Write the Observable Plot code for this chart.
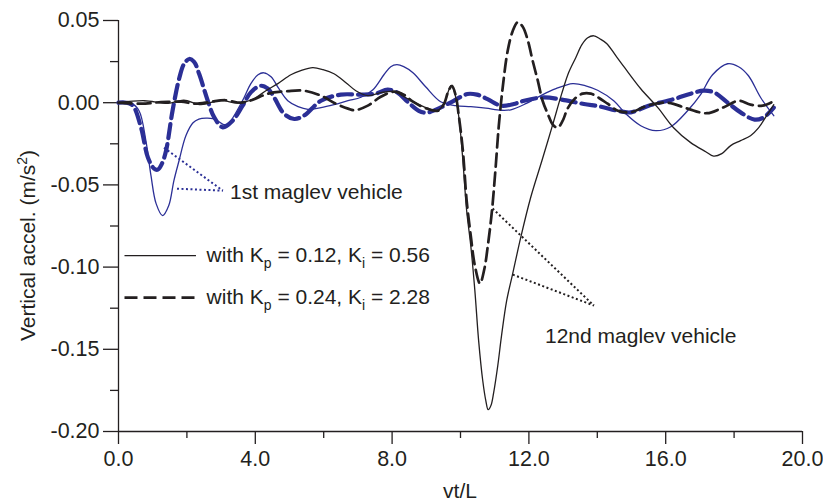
<!DOCTYPE html>
<html><head><meta charset="utf-8">
<script src="https://cdn.jsdelivr.net/npm/d3@7"></script>
<script src="https://cdn.jsdelivr.net/npm/@observablehq/plot@0.6"></script>
<style>
body{margin:0;background:#fff;}
#chart{width:823px;height:502px;}
svg{font-family:Arial,"Liberation Sans",sans-serif;}
</style></head><body><div id="chart"></div>
<script>
// Series: 1st vehicle (blue), 12nd vehicle (black); solid = Kp 0.12, dashed = Kp 0.24
const blue1X = [0,0.22,0.37,0.60,0.80,0.95,1.10,1.29,1.47,1.62,1.77,1.97,2.18,2.35,2.56,2.76,2.94,3.08,3.23,3.43,3.67,3.87,4.08,4.25,4.46,4.69,4.95,5.25,5.54,5.92,6.30,6.71,7.09,7.44,7.76,7.96,8.14,8.34,8.61,8.98,9.42,9.86,10.30,10.74,11.18,11.47,11.91,12.35,12.79,13.28,13.66,14.01,14.48,14.83,15.27,15.71,16.15,16.64,17.02,17.37,17.81,18.13,18.42,18.78,19.16];
const blue1Y = [0,0,-0.0003,-0.0049,-0.0231,-0.0444,-0.0614,-0.0687,-0.0626,-0.0474,-0.0353,-0.0201,-0.0122,-0.0100,-0.0094,-0.0097,-0.0116,-0.0134,-0.0122,-0.0061,0.0030,0.0116,0.0170,0.0182,0.0158,0.0085,0.0012,-0.0024,-0.0040,-0.0030,-0.0012,0.0012,0.0033,0.0079,0.0170,0.0219,0.0231,0.0219,0.0182,0.0097,0.0006,-0.0018,-0.0024,-0.0033,-0.0046,-0.0043,-0.0006,0.0043,0.0085,0.0116,0.0103,0.0076,0.0012,-0.0067,-0.0140,-0.0170,-0.0146,-0.0049,0.0049,0.0170,0.0237,0.0219,0.0164,0.0030,-0.0079];

const blue2X = [0,0.22,0.42,0.66,0.86,1.04,1.15,1.27,1.39,1.58,1.78,1.92,2.07,2.21,2.36,2.61,2.80,3.05,3.34,3.63,3.87,4.16,4.37,4.55,4.85,5.14,5.42,5.92,6.50,7.09,7.52,7.87,8.16,8.45,8.78,8.99,9.28,9.72,10.20,10.48,10.79,11.18,11.56,11.86,12.44,13.03,13.61,14.10,14.59,14.98,15.50,16.24,16.73,17.11,17.41,17.80,18.19,18.60,18.87,19.16];
const blue2Y = [0,0,-0.0018,-0.0152,-0.0334,-0.0401,-0.0407,-0.0371,-0.0292,-0.0049,0.0152,0.0237,0.0266,0.0249,0.0174,0.0012,-0.0089,-0.0150,-0.0109,-0.0018,0.0063,0.0103,0.0085,0.0032,-0.0069,-0.0099,-0.0079,0.0012,0.0049,0.0049,0.0055,0.0079,0.0061,0.0006,-0.0049,-0.0061,-0.0043,0.0002,0.0053,0.0049,0.0022,-0.0018,-0.0008,0.0012,0.0032,0.0016,-0.0008,-0.0024,-0.0049,-0.0059,-0.0018,0.0022,0.0055,0.0073,0.0063,0.0002,-0.0059,-0.0103,-0.0089,-0.0030];

const black1X = [0,0.75,1.45,1.91,2.41,3.00,3.49,3.96,4.31,4.66,5.04,5.33,5.68,5.98,6.30,6.65,6.94,7.29,7.67,8.05,8.40,8.78,9.13,9.34,9.52,9.63,9.72,9.80,9.89,9.98,10.07,10.18,10.30,10.42,10.53,10.65,10.74,10.81,10.89,10.97,11.09,11.20,11.35,11.52,11.76,12.05,12.38,12.67,12.96,13.16,13.37,13.55,13.72,13.90,14.07,14.28,14.54,14.80,15.27,15.77,16.23,16.73,17.17,17.40,17.64,17.90,18.19,18.48,18.72,18.95,19.16];
const black1Y = [0,0.0012,-0.0004,0.0015,-0.0012,0.0015,-0.0003,0.0024,0.0073,0.0116,0.0170,0.0195,0.0213,0.0201,0.0176,0.0122,0.0073,0.0043,0.0061,0.0067,0.0030,-0.0012,-0.0040,-0.0046,-0.0006,0.0061,0.0103,0.0079,0.0000,-0.0140,-0.0353,-0.0657,-0.0869,-0.1143,-0.1447,-0.1690,-0.1812,-0.1867,-0.1842,-0.1763,-0.1599,-0.1417,-0.1204,-0.1046,-0.0821,-0.0578,-0.0353,-0.0152,0.0055,0.0182,0.0274,0.0353,0.0395,0.0407,0.0389,0.0359,0.0286,0.0213,0.0085,-0.0030,-0.0152,-0.0243,-0.0298,-0.0325,-0.0310,-0.0261,-0.0231,-0.0201,-0.0152,-0.0079,-0.0012];

const black2X = [0,0.66,1.24,1.83,2.26,2.70,3.13,3.58,3.93,4.37,4.95,5.42,5.92,6.35,6.71,6.91,7.29,7.67,8.05,8.34,8.61,8.98,9.34,9.52,9.63,9.75,9.86,9.95,10.07,10.18,10.30,10.42,10.57,10.70,10.80,10.92,11.02,11.12,11.24,11.38,11.53,11.67,11.82,11.97,12.11,12.26,12.40,12.55,12.70,12.84,12.99,13.13,13.34,13.57,13.81,14.04,14.30,14.60,14.98,15.47,16.06,16.64,17.20,17.70,18.13,18.48,18.83,19.13];
const black2Y = [0,-0.0006,0.0003,0.0006,-0.0006,0.0006,0.0015,0,0.0018,0.0055,0.0070,0.0073,0.0043,-0.0006,-0.0036,-0.0046,-0.0018,0.0036,0.0067,0.0049,0.0006,-0.0033,-0.0049,-0.0006,0.0061,0.0103,0.0043,-0.0079,-0.0292,-0.0596,-0.0809,-0.0991,-0.1100,-0.1009,-0.0869,-0.0657,-0.0413,-0.0140,0.0103,0.0316,0.0438,0.0489,0.0462,0.0377,0.0255,0.0134,0.0012,-0.0067,-0.0134,-0.0152,-0.0109,-0.0036,0.0024,0.0055,0.0055,0.0030,-0.0006,-0.0049,-0.0058,-0.0018,0.0000,-0.0036,-0.0064,-0.0027,0.0012,-0.0012,-0.0018,0.0006];

// Axis ticks
const xMajor = [0,4,8,12,16,20];
const xMinor = [2,6,10,14,18];
const yMajor = [-0.20,-0.15,-0.10,-0.05,0.00,0.05];
const yMinor = [-0.175,-0.125,-0.075,-0.025,0.025];

// Annotations (data units)
const note1Text = "1st maglev vehicle";
const note1Pos = [3.26, -0.0545];
const note1Ptr = [[1.33,-0.0274,3.05,-0.0535],[1.71,-0.0523,3.05,-0.0535]];
const note2Text = "12nd maglev vehicle";
const note2Pos = [12.47, -0.1423];
const note2Ptr = [[10.94,-0.0644,13.90,-0.1234],[11.53,-0.1046,13.90,-0.1234]];

// Legend
const legendLabels = [["with K","p"," = 0.12, K","i"," = 0.56"],["with K","p"," = 0.24, K","i"," = 2.28"]];
const legendLineY = [-0.0930,-0.1186];
const legendLineX = [0.19, 2.28];
const legendTextX = 2.59;

const BLUE = "#2b2f96", INK = "#231f20";
const toRows = (xs, ys) => xs.slice(0, Math.min(xs.length, ys.length)).map((x, i) => ({x, y: ys[i]}));
const ptrRows = p => p.map(([x1,y1,x2,y2]) => ({x1,y1,x2,y2}));

const plot = Plot.plot({
  width: 823, height: 502,
  marginLeft: 118, marginRight: 21, marginTop: 20, marginBottom: 71,
  style: {fontSize: "21.5px", fontFamily: "Arial, 'Liberation Sans', sans-serif", color: INK, background: "#fff"},
  x: {domain: [0, 20], label: null},
  y: {domain: [-0.2, 0.05], label: null},
  marks: [
    Plot.axisX(xMinor, {tickSize: 7, tickFormat: () => "", strokeWidth: 1.3}),
    Plot.axisX(xMajor, {tickSize: 13, tickPadding: 6, tickFormat: d => d.toFixed(1), strokeWidth: 1.3}),
    Plot.axisY(yMinor, {tickSize: 8, tickFormat: () => "", strokeWidth: 1.3}),
    Plot.axisY(yMajor, {tickSize: 15, tickPadding: 4, tickFormat: d => d.toFixed(2), strokeWidth: 1.3}),
    Plot.ruleY([-0.2], {x1: 0, x2: 20, stroke: INK, strokeWidth: 1.3}),
    Plot.ruleX([0], {y1: -0.2, y2: 0.05, stroke: INK, strokeWidth: 1.3}),
    Plot.line(toRows(blue1X, blue1Y), {x: "x", y: "y", stroke: BLUE, strokeWidth: 1.3, curve: "catmull-rom"}),
    Plot.line(toRows(blue2X, blue2Y), {x: "x", y: "y", stroke: BLUE, strokeWidth: 4.2, strokeDasharray: "14,6", curve: "catmull-rom"}),
    Plot.line(toRows(black1X, black1Y), {x: "x", y: "y", stroke: INK, strokeWidth: 1.3, curve: "catmull-rom"}),
    Plot.line(toRows(black2X, black2Y), {x: "x", y: "y", stroke: INK, strokeWidth: 2.7, strokeDasharray: "13,6", curve: "catmull-rom"}),
    Plot.link(ptrRows(note1Ptr), {x1: "x1", y1: "y1", x2: "x2", y2: "y2", stroke: BLUE, strokeWidth: 2, strokeDasharray: "2,2.5"}),
    Plot.link(ptrRows(note2Ptr), {x1: "x1", y1: "y1", x2: "x2", y2: "y2", stroke: INK, strokeWidth: 2, strokeDasharray: "2,2.5"}),
    Plot.text([note1Text], {x: note1Pos[0], y: note1Pos[1], text: d => d, textAnchor: "start", fontSize: 21, fill: INK}),
    Plot.text([note2Text], {x: note2Pos[0], y: note2Pos[1], text: d => d, textAnchor: "start", fontSize: 21, fill: INK}),
    Plot.ruleY([legendLineY[0]], {x1: legendLineX[0], x2: legendLineX[1], stroke: INK, strokeWidth: 1.3}),
    Plot.ruleY([legendLineY[1]], {x1: legendLineX[0], x2: legendLineX[1], stroke: INK, strokeWidth: 2.7, strokeDasharray: "13,6"})
  ]
});

const svg = d3.select(plot);
const sx = plot.scale("x").apply, sy = plot.scale("y").apply;

// Legend text with subscripts
legendLabels.forEach((parts, i) => {
  const t = svg.append("text")
    .attr("x", sx(legendTextX)).attr("y", sy(legendLineY[i]) + 7)
    .attr("text-anchor", "start")
    .attr("font-size", 21).attr("fill", INK);
  parts.forEach((p, j) => {
    const sub = j % 2 === 1;
    t.append("tspan").attr("dy", sub ? 6 : (j === 0 ? 0 : -6))
      .attr("font-size", sub ? 14 : 21).text(p);
  });
});

// Axis titles
svg.append("text").attr("x", (sx(0) + sx(20)) / 2).attr("y", 498)
  .attr("text-anchor", "middle").attr("font-size", 21).attr("fill", INK).text("vt/L");
const yl = svg.append("text")
  .attr("transform", `translate(35,${(sy(0.05) + sy(-0.2)) / 2 + 20}) rotate(-90)`)
  .attr("text-anchor", "middle").attr("font-size", 21).attr("fill", INK);
yl.append("tspan").text("Vertical accel. (m/s");
yl.append("tspan").attr("dy", -8).attr("font-size", 14).text("2");
yl.append("tspan").attr("dy", 8).text(")");

document.getElementById("chart").appendChild(plot);
</script></body></html>
